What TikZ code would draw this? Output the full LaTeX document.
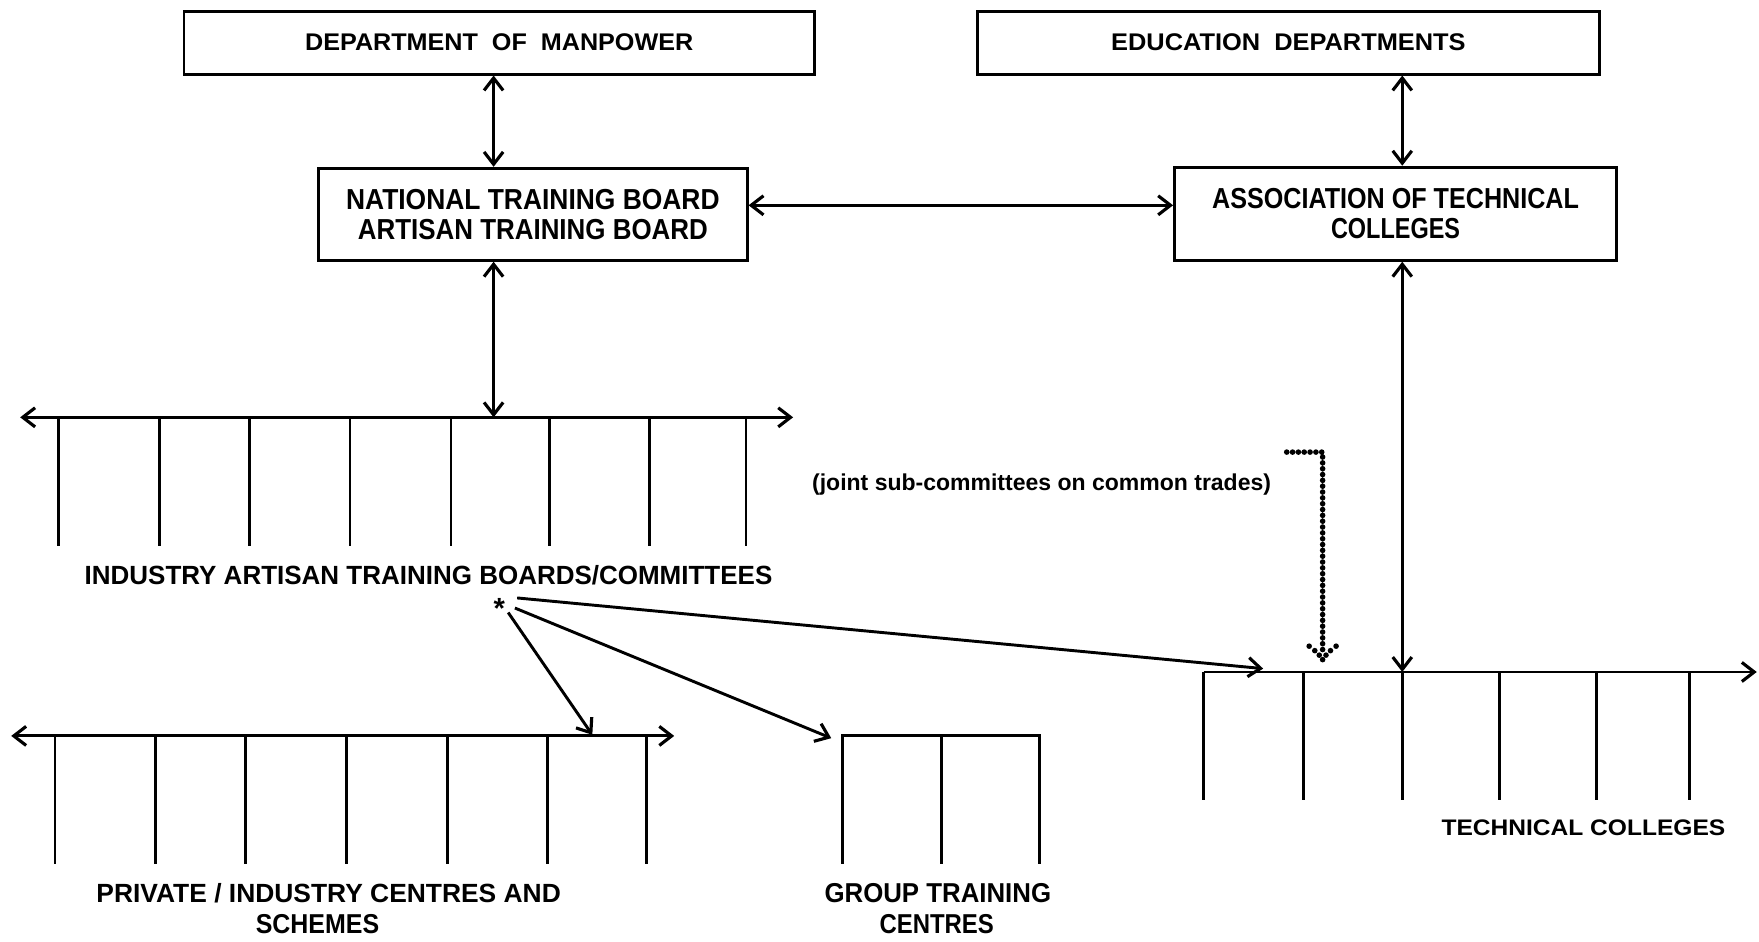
\documentclass[tikz,border=0pt]{standalone}
\usepackage{fontspec}
\setmainfont{Liberation Sans}
\usetikzlibrary{arrows.meta,calc}
\newcommand{\fitT}[3]{\resizebox{#1pt}{#2pt}{\bfseries #3}}
\begin{document}
\begin{tikzpicture}[x=1pt,y=-1pt,
  box/.style={draw,line width=2.6pt,inner sep=0pt,align=center,font=\fontsize{20pt}{27pt}\selectfont},
  lbl/.style={inner sep=0pt,align=center},
  tipb/.tip={Straight Barb[length=11pt,width=17pt,line width=2.8pt]},
  con/.style={line width=2.6pt,tipb-tipb},
  one/.style={line width=2.6pt,-tipb},
  barline/.style={line width=2.6pt},
  tickline/.style={line width=2.6pt},
  dotline/.style={line width=5pt,line cap=round,dash pattern=on 0pt off 5.2pt}
]
\useasboundingbox (0,0) rectangle (1568,839);

% boxes
\node[box,minimum width=562pt,minimum height=56pt] (dom) at (445,38)
  {\fitT{346}{15}{DEPARTMENT~~OF~~MANPOWER}};
\node[box,minimum width=555pt,minimum height=56pt] (ed) at (1148.5,38)
  {\fitT{316}{15}{EDUCATION~~DEPARTMENTS}};
\node[box,minimum width=382pt,minimum height=82pt] (ntb) at (475,191)
  {\fitT{333}{18}{NATIONAL TRAINING BOARD}\\\fitT{312}{18}{ARTISAN TRAINING BOARD}};
\node[box,minimum width=394pt,minimum height=83pt] (atc) at (1244,190.5)
  {\fitT{327}{18}{ASSOCIATION OF TECHNICAL}\\\fitT{115}{18}{COLLEGES}};

% reference coordinates
\coordinate (xL) at (440,0);
\coordinate (xR) at (1250,0);
\coordinate (yM) at (0,183);
\coordinate (ibL) at (18,372);
\coordinate (ibR) at (707,372);
\coordinate (pbL) at (10,656);
\coordinate (pbR) at (601,656);
\coordinate (tcL) at (1073,599);
\coordinate (tcR) at (1566,599);

% top connectors
\draw[con] (dom.south -| xL) -- (ntb.north -| xL);
\draw[con] (ed.south -| xR) -- (atc.north -| xR);
\draw[con] (ntb.east |- yM) -- (atc.west |- yM);
\draw[con] (ntb.south -| xL) -- (xL |- ibL);
\draw[con] (atc.south -| xR) -- (xR |- tcL);

% industry boards bar
\draw[con] (ibL) -- (ibR);
\foreach \x in {52,142,222,312,402,490,579,665}
  \draw[tickline] (\x,372) -- (\x,487);
\node[lbl] (iatb) at (382,513) {\fitT{613}{17}{INDUSTRY ARTISAN TRAINING BOARDS/COMMITTEES}};

% private / industry centres
\draw[con] (pbL) -- (pbR);
\foreach \x in {49,139,219,309,399,488,576}
  \draw[tickline] (\x,656) -- (\x,770);
\node[lbl] (pic) at (293,796) {\fitT{414}{17}{PRIVATE / INDUSTRY CENTRES AND}};
\node[lbl] (pic2) at (283,824) {\fitT{110}{17}{SCHEMES}};

% group training centres
\coordinate (gtL) at (751,656);
\coordinate (gtR) at (927,656);
\draw[barline] (751,770) -- (gtL) -- (gtR) -- (927,770);
\draw[tickline] (839,656) -- (839,770);
\node[lbl] (gtc) at (836,796) {\fitT{202}{17}{GROUP TRAINING}};
\node[lbl] (gtc2) at (835,824) {\fitT{102}{17}{CENTRES}};

% technical colleges
\draw[one] (tcL) -- (tcR);
\foreach \x in {1073,1162,1250,1337,1423,1506}
  \draw[tickline] (\x,599) -- (\x,713);
\node[lbl] (tc) at (1411.5,738) {\fitT{253}{14}{TECHNICAL COLLEGES}};

% asterisk and its connectors
\node[lbl] (star) at (445,542.6) {\fontsize{26pt}{26pt}\selectfont\bfseries *};
\coordinate (s1) at (453,546);
\coordinate (s2) at (459,542);
\coordinate (s3) at (461,533);
\coordinate (t1) at (528,655);
\coordinate (t2) at (741,658);
\coordinate (t3) at (1126,596);
\draw[one] (s1) -- (t1);
\draw[one] (s2) -- (t2);
\draw[one] (s3) -- (t3);

% joint sub-committees dotted link
\coordinate (d0) at (1147,403);
\coordinate (d1) at (1179,403);
\coordinate (d2) at (1179,574);
\draw[dotline] (d0) -- (d1) -- (d2);
\foreach \p in {(1167,576),(1191,576),(1172,580),(1179,579),(1186,580),(1176,584),(1182,584),(1179,588)}
  \fill \p circle (2.5pt);
\node[lbl] (joint) at (928.5,432) {\resizebox{409pt}{!}{\bfseries (joint sub-committees on common trades)}};
\end{tikzpicture}
\end{document}
